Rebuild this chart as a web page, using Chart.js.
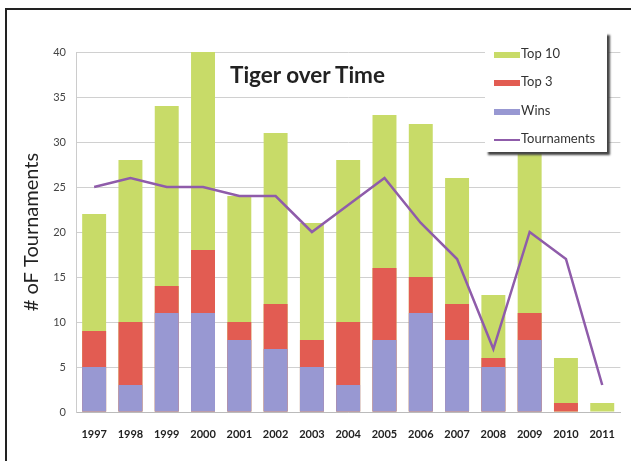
<!DOCTYPE html>
<html>
<head>
<meta charset="utf-8">
<script src="https://cdn.jsdelivr.net/npm/chart.js@4"></script>
<style>
  body { margin: 0; background: #fff; }
  #wrap { position: relative; width: 631px; height: 461px; overflow: hidden; }
  #frame { position: absolute; left: 5px; top: 8px; width: 640px; height: 470px;
           border-left: 2px solid #222; border-top: 2px solid #222; }
  #title { position: absolute; left: 230px; top: 61px; font: bold 22.5px Lato, "Liberation Sans", sans-serif; color: #222; }
  #legend { position: absolute; left: 485px; top: 32px; width: 122px; height: 120px; background: #fff;
            box-shadow: 3px 3px 2px #444; font: 13px Lato, "Liberation Sans", sans-serif; color: #333; }
  .row { position: absolute; left: 9px; height: 14px; line-height: 14px; }
  .sw { display: inline-block; width: 26px; height: 6px; vertical-align: middle; margin-right: 1px; }
  .ln { display: inline-block; width: 26px; height: 2px; vertical-align: middle; margin-right: 1px; }
</style>
</head>
<body>
<div id="wrap">
  <canvas id="myChart" width="631" height="461"></canvas>
  <div id="frame"></div>
  <div id="title">Tiger over Time</div>
  <div id="legend"></div>
</div>
<script>
let years = ['1997','1998','1999','2000','2001','2002','2003','2004','2005','2006','2007','2008','2009','2010','2011'];
let top10 = [22, 28, 34, 40, 24, 31, 21, 28, 33, 32, 26, 13, 29, 6, 1];
let top3 = [9, 10, 14, 18, 10, 12, 8, 10, 16, 15, 12, 6, 11, 1, 0];
let wins = [5, 3, 11, 11, 8, 7, 5, 3, 8, 11, 8, 5, 8, 0, 0];
let tournaments = [25, 26, 25, 25, 24, 24, 20, 23, 26, 21, 17, 7, 20, 17, 3];

let green = 'rgb(200,219,104)';
let red = 'rgb(226,92,82)';
let blue = 'rgb(152,152,210)';
let purple = 'rgb(143,92,170)';

let ctx = document.getElementById('myChart').getContext('2d');
let chart = new Chart(ctx, {
  type: 'bar',
  data: {
    labels: years,
    datasets: [
      { label: 'Top 10', data: top10, backgroundColor: green, grouped: false, order: 3 },
      { label: 'Top 3', data: top3, backgroundColor: red, grouped: false, order: 2 },
      { label: 'Wins', data: wins, backgroundColor: blue, grouped: false, order: 1 },
      { label: 'Tournaments', data: tournaments, type: 'line', borderColor: purple, borderWidth: 2.5,
        pointRadius: 0, tension: 0, fill: false, order: 0 }
    ]
  },
  options: {
    responsive: false,
    animation: false,
    barPercentage: 0.66,
    categoryPercentage: 1,
    layout: { padding: { top: 52, left: 0, right: 0, bottom: 0 } },
    plugins: { legend: { display: false }, tooltip: { enabled: false } },
    scales: {
      x: {
        grid: { display: false, drawTicks: false },
        border: { color: '#bbb' },
        ticks: { padding: 16, color: '#222', font: { family: 'Lato, "Liberation Sans", sans-serif', size: 11, weight: 'bold' } },
        afterFit: (s) => { s.height = 49; }
      },
      y: {
        min: 0, max: 40,
        ticks: { stepSize: 5, padding: 10, color: '#444', font: { family: 'Lato, "Liberation Sans", sans-serif', size: 11 } },
        grid: { color: '#d0d0d0', drawTicks: false },
        border: { color: '#ccc' },
        title: { display: true, text: '# oF Tournaments', color: '#222', padding: { top: 20 },
                 font: { family: 'Lato, "Liberation Sans", sans-serif', size: 20 } },
        afterFit: (s) => { s.width = 76; }
      }
    }
  }
});

// legend drawn over the plot, like the original
let legend = document.getElementById('legend');
let rowTops = [14, 42, 71, 99];
chart.data.datasets.forEach((ds, i) => {
  let row = document.createElement('div');
  row.className = 'row';
  row.style.top = rowTops[i] + 'px';
  let mark = document.createElement('span');
  if (ds.type === 'line') {
    mark.className = 'ln';
    mark.style.background = ds.borderColor;
  } else {
    mark.className = 'sw';
    mark.style.background = ds.backgroundColor;
  }
  row.appendChild(mark);
  row.appendChild(document.createTextNode(ds.label));
  legend.appendChild(row);
});
</script>
</body>
</html>
